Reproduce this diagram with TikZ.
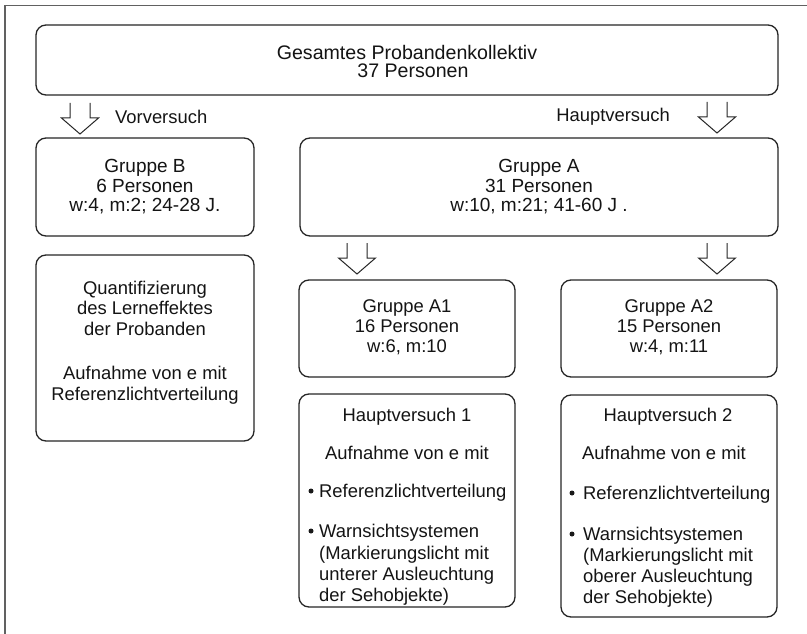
\documentclass[tikz,border=0pt]{standalone}
\usepackage{fontspec}
\setmainfont{Liberation Sans}
\begin{document}
\begin{tikzpicture}[x=1pt,y=-1pt,
  txt/.style={text=black!92, font=\fontsize{18.4}{20}\selectfont, inner sep=0pt, align=center},
  ltxt/.style={txt, align=left},
  bigtxt/.style={txt, font=\fontsize{19.6}{19.5}\selectfont},
  grptxt/.style={txt, font=\fontsize{19}{19.5}\selectfont},
  box/.style={draw=black!85, line width=1.3pt, rounded corners=10pt, fill=white, inner sep=0pt},
  frameline/.style={draw=black!62, line width=1.6pt},
  arrowline/.style={draw=black!85, line width=1pt, fill=white, line join=miter},
  dot/.style={circle, fill=black!90, inner sep=0pt, minimum size=5pt},
  blockarr/.pic={\draw[arrowline] (-10,0)--(-10,15)--(-18.5,15)--(0,31)--(18.5,15)--(10,15)--(10,0);}
]
\useasboundingbox (0,0) rectangle (807,634);
% outer frame (cut at the right and bottom)
\draw[frameline] (4.7,634) -- (4.7,5.7) -- (807,5.7);

% boxes
\node[box, minimum width=742pt, minimum height=70pt] (top) at (407,60) {};
\node[box, minimum width=218pt, minimum height=98pt] (gb) at (145,187) {};
\node[box, minimum width=478pt, minimum height=98pt] (ga) at (539,187) {};
\node[box, minimum width=218pt, minimum height=186pt] (quant) at (145,348) {};
\node[box, minimum width=216pt, minimum height=97pt] (a1) at (407,328.5) {};
\node[box, minimum width=216pt, minimum height=97pt] (a2) at (669,328.5) {};
\node[box, minimum width=216pt, minimum height=213pt] (hv1) at (407,500.5) {};
\node[box, minimum width=216pt, minimum height=222pt] (hv2) at (669,506) {};

% block arrows
\coordinate (arrB) at (80,103);
\coordinate (arrA) at (717,102);
\coordinate (arrA1) at (357,243);
\coordinate (arrA2) at (717,243);
\pic at (arrB) {blockarr};
\pic at (arrA) {blockarr};
\pic at (arrA1) {blockarr};
\pic at (arrA2) {blockarr};

% texts
\node[bigtxt] (t1) at (407,52) {Gesamtes Probandenkollektiv};
\node[bigtxt] (t2) at (413,71) {37 Personen};
\node[txt, anchor=west] (vor) at (115,117) {Vorversuch};
\node[txt, anchor=east] (haupt) at (670,117) {Hauptversuch};

\node[grptxt] (gbt) at (gb) {Gruppe B\\6 Personen\\w:4, m:2; 24-28 J.};
\node[grptxt] (gat) at (ga) {Gruppe A\\31 Personen\\w:10, m:21; 41-60 J .};

\node[txt, font=\fontsize{18.4}{20.5}\selectfont] (q1) at (145,308) {Quantifizierung\\des Lerneffektes\\der Probanden};
\node[txt, font=\fontsize{18.4}{21}\selectfont] (q2) at (145,385.5) {Aufnahme von e mit\\Referenzlichtverteilung};

\node[txt] (a1t) at (407,327) {Gruppe A1\\16 Personen\\w:6, m:10};
\node[txt] (a2t) at (669,327) {Gruppe A2\\15 Personen\\w:4, m:11};

\node[txt] (h1a) at (407,417) {Hauptversuch 1};
\node[txt] (h1b) at (407,453) {Aufnahme von e mit};
\node[dot] (h1d1) at (311,491) {};
\node[txt, anchor=west] (h1c) at (319,493) {Referenzlichtverteilung};
\node[dot] (h1d2) at (311,531) {};
\node[ltxt, anchor=west, font=\fontsize{18.4}{21.3}\selectfont] (h1e) at (319,565) {Warnsichtsystemen\\(Markierungslicht mit\\unterer Ausleuchtung\\der Sehobjekte)};

\node[txt] (h2a) at (668,417) {Hauptversuch 2};
\node[txt] (h2b) at (664,453) {Aufnahme von e mit};
\node[dot] (h2d1) at (572,493) {};
\node[txt, anchor=west] (h2c) at (583,495) {Referenzlichtverteilung};
\node[dot] (h2d2) at (572,534) {};
\node[ltxt, anchor=west, font=\fontsize{18.4}{21}\selectfont] (h2e) at (583,567.5) {Warnsichtsystemen\\(Markierungslicht mit\\oberer Ausleuchtung\\der Sehobjekte)};
\end{tikzpicture}
\end{document}
